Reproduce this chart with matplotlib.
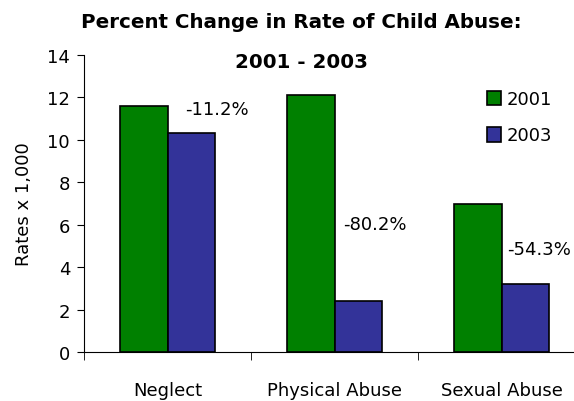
import matplotlib
matplotlib.use("Agg")
import matplotlib.pyplot as plt
import numpy as np

CATEGORIES = ["Neglect", "Physical Abuse", "Sexual Abuse"]
RATES_2001 = [11.6, 12.1, 7.0]
RATES_2003 = [10.3, 2.4, 3.2]

# where the percent-change labels sit (data coords, left edge of text)
LABEL_X = [0.105, 1.05, 2.035]
LABEL_Y = [11.45, 6.05, 4.85]

GREEN = "#008000"
BLUE = "#333399"

plt.rcParams["font.family"] = ["DejaVu Sans"]

fig = plt.figure(figsize=(5.74, 4.02), dpi=100)
ax = fig.add_axes([84 / 574, 1 - 353 / 402, 501 / 574, (353 - 56) / 402])

x = np.arange(len(CATEGORIES))
width = 0.287
ax.bar(x - width / 2, RATES_2001, width, color=GREEN, edgecolor="black",
       linewidth=1.2, label="2001")
ax.bar(x + width / 2, RATES_2003, width, color=BLUE, edgecolor="black",
       linewidth=1.2, label="2003")

for i, (a, b) in enumerate(zip(RATES_2001, RATES_2003)):
    pct = (b - a) / a * 100
    ax.text(LABEL_X[i], LABEL_Y[i], f"{pct:.1f}%", ha="left", va="center",
            fontsize=13)

ax.set_xlim(-0.5, 2.5)
ax.set_ylim(0, 14)
ax.set_yticks(range(0, 15, 2))
ax.set_xticks(x)
ax.set_xticklabels(CATEGORIES, fontsize=13)
ax.set_xticks([-0.5, 0.5, 1.5, 2.5], minor=True)
ax.tick_params(axis="x", which="major", length=0, pad=21)
ax.tick_params(axis="x", which="minor", length=6, direction="out")
ax.tick_params(axis="y", length=5, labelsize=13, pad=5)
ax.set_ylabel("Rates x 1,000", fontsize=13, labelpad=10)
for side in ["top", "right"]:
    ax.spines[side].set_visible(False)

fig.text(0.525, 1 - 22 / 402, "Percent Change in Rate of Child Abuse:",
         ha="center", va="center", fontsize=14.3, fontweight="bold")
fig.text(0.525, 1 - 63 / 402, "2001 - 2003", ha="center", va="center",
         fontsize=14.3, fontweight="bold")

fig.legend(loc="upper left", bbox_to_anchor=(480 / 574, 1 - 84 / 402),
           frameon=False, fontsize=13, handlelength=0.75, handleheight=0.9,
           handletextpad=0.3, labelspacing=1.0, borderaxespad=0)

fig.savefig("out.png", dpi=100)
